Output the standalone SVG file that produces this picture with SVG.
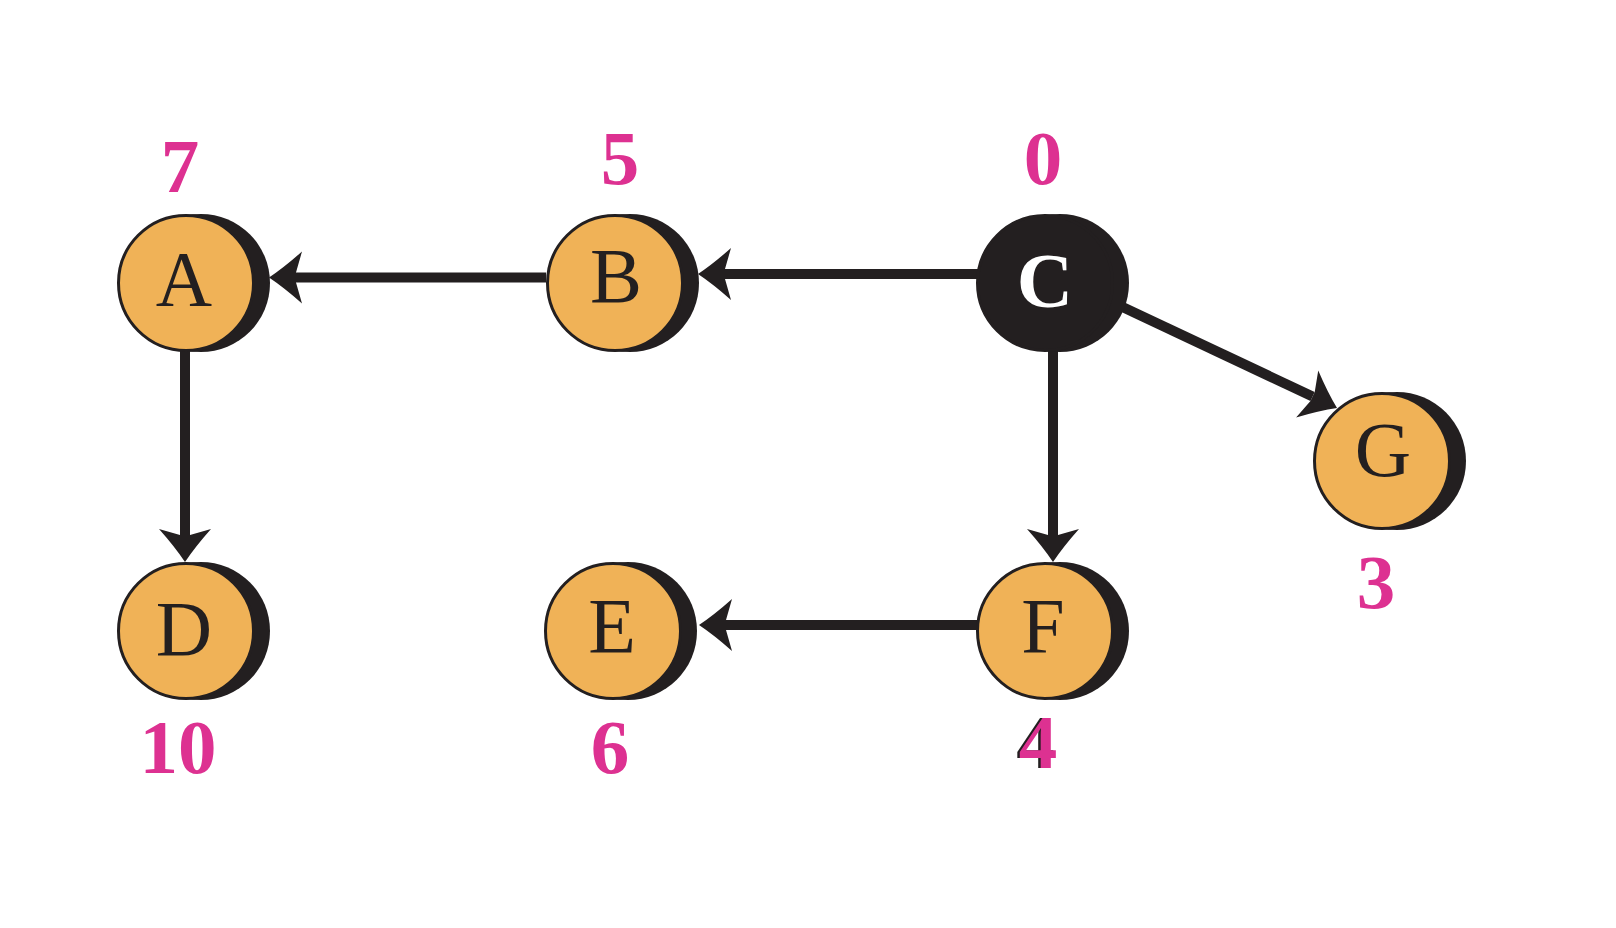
<svg xmlns="http://www.w3.org/2000/svg" width="1616" height="928" viewBox="0 0 1616 928">
  <defs>
    <style>
      .shadow { fill: #231F20; }
      .body { fill: #F0B257; stroke: #231F20; stroke-width: 3; }
      .body-dark { fill: #231F20; stroke: #231F20; stroke-width: 3; }
      .letter { font-family: "Liberation Serif", "Times New Roman", serif; font-size: 78px; fill: #231F20; text-anchor: middle; }
      .letter-light { font-family: "Liberation Serif", "Times New Roman", serif; font-size: 78px; font-weight: bold; fill: #FFFFFF; text-anchor: middle; }
      .num { font-family: "Liberation Serif", "Times New Roman", serif; font-size: 77px; font-weight: bold; fill: #DD3191; text-anchor: middle; }
      .num-shadow { font-family: "Liberation Serif", "Times New Roman", serif; font-size: 77px; font-weight: bold; fill: #231F20; text-anchor: middle; }
      .edge { stroke: #231F20; stroke-width: 10; fill: none; marker-end: url(#arrow); }
    </style>
    <marker id="arrow" markerUnits="userSpaceOnUse" markerWidth="44" markerHeight="60" viewBox="-10 -30 44 60" refX="0" refY="0" orient="auto">
      <path d="M27,0 Q12,-10 -6,-26 L0,-5 L0,5 L-6,26 Q12,10 27,0 Z" fill="#231F20"/>
    </marker>
  </defs>

  <g id="connectors">
    <line class="edge" x1="546" y1="277.5" x2="296" y2="277.5"/>
    <line class="edge" x1="980" y1="274" x2="725" y2="274"/>
    <line class="edge" x1="185" y1="345" x2="185" y2="535"/>
    <line class="edge" x1="1053" y1="345" x2="1053" y2="535"/>
    <line class="edge" x1="980" y1="625" x2="726" y2="625"/>
    <line class="edge" x1="1080" y1="287" x2="1312.6" y2="396.5"/>
  </g>

  <g id="node-A">
    <circle class="shadow" cx="201" cy="283" r="69"/>
    <circle class="body" cx="186" cy="283" r="67.5"/>
    <text class="letter" x="184" y="305">A</text>
    <text class="num" x="180" y="192">7</text>
  </g>
  <g id="node-B">
    <circle class="shadow" cx="630" cy="283" r="69"/>
    <circle class="body" cx="615" cy="283" r="67.5"/>
    <text class="letter" x="616" y="302">B</text>
    <text class="num" x="620" y="184">5</text>
  </g>
  <g id="node-C">
    <circle class="shadow" cx="1060" cy="283" r="69"/>
    <circle class="body-dark" cx="1045" cy="283" r="67.5"/>
    <text class="letter-light" x="1045" y="307">C</text>
    <text class="num" x="1043" y="184">0</text>
  </g>
  <g id="node-D">
    <circle class="shadow" cx="201" cy="631" r="69"/>
    <circle class="body" cx="186" cy="631" r="67.5"/>
    <text class="letter" x="184" y="655">D</text>
    <text class="num" x="178" y="773">10</text>
  </g>
  <g id="node-E">
    <circle class="shadow" cx="628" cy="631" r="69"/>
    <circle class="body" cx="613" cy="631" r="67.5"/>
    <text class="letter" x="612" y="652">E</text>
    <text class="num" x="610" y="773">6</text>
  </g>
  <g id="node-F">
    <circle class="shadow" cx="1060" cy="631" r="69"/>
    <circle class="body" cx="1045" cy="631" r="67.5"/>
    <text class="letter" x="1043" y="652">F</text>
    <text class="num-shadow" x="1035.5" y="767.5">4</text>
    <text class="num" x="1038" y="768">4</text>
  </g>
  <g id="node-G">
    <circle class="shadow" cx="1397" cy="461" r="69"/>
    <circle class="body" cx="1382" cy="461" r="67.5"/>
    <text class="letter" x="1383" y="476">G</text>
    <text class="num" x="1376" y="608">3</text>
  </g>
</svg>
